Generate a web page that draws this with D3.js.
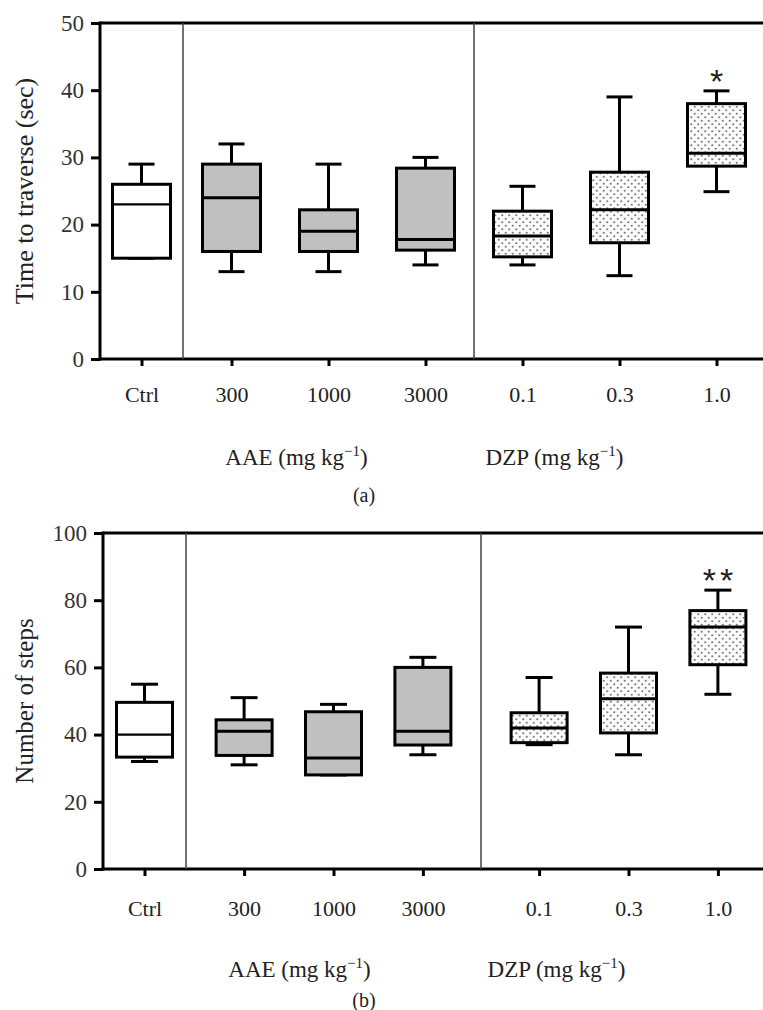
<!DOCTYPE html>
<html>
<head>
<meta charset="utf-8">
<script src="https://cdn.jsdelivr.net/npm/d3@7"></script>
<style>
	body { margin: 0; background: #fff; }
	svg { display: block; }
</style>
</head>
<body>
<svg></svg>
<script>

const categories = ['Ctrl', '300', '1000', '3000', '0.1', '0.3', '1.0']
const groups = ['ctrl', 'aae', 'aae', 'aae', 'dzp', 'dzp', 'dzp']

// panel (a): time to traverse (sec) -> min, q1, median, q3, max
const traverseMin = [15, 13, 13, 14, 14, 12.4, 24.9]
const traverseQ1 = [15, 16, 16, 16.2, 15.2, 17.3, 28.7]
const traverseMed = [23, 24, 19, 17.8, 18.3, 22.2, 30.6]
const traverseQ3 = [26, 29, 22.2, 28.4, 22, 27.8, 38]
const traverseMax = [29, 32, 29, 30, 25.7, 39, 39.9]
const traverseSig = ['', '', '', '', '', '', '*']
const traverseTicks = [0, 10, 20, 30, 40, 50]

// panel (b): number of steps
const stepsMin = [32, 31, 28, 34, 37, 34, 52]
const stepsQ1 = [33.3, 33.8, 28, 36.9, 37.6, 40.5, 60.8]
const stepsMed = [40, 41, 33, 41, 42, 50.7, 72]
const stepsQ3 = [49.6, 44.4, 46.8, 60, 46.5, 58.3, 76.9]
const stepsMax = [55, 51, 49, 63, 57, 72, 83]
const stepsSig = ['', '', '', '', '', '', '**']
const stepsTicks = [0, 20, 40, 60, 80, 100]

let width = 763, height = 1010
const serif = "'Liberation Serif', 'Times New Roman', Times, serif"

let svg = d3.select('svg')
	.attr('width', width)
	.attr('height', height)

let defs = svg.append('defs')
let pat = defs.append('pattern')
	.attr('id', 'dots')
	.attr('patternUnits', 'userSpaceOnUse')
	.attr('width', 7).attr('height', 7)
pat.append('rect').attr('width', 7).attr('height', 7).attr('fill', '#fbfbfb')
pat.append('circle').attr('cx', 1.75).attr('cy', 1.75).attr('r', 1.1).attr('fill', '#7d7d7d')
pat.append('circle').attr('cx', 5.25).attr('cy', 5.25).attr('r', 1.1).attr('fill', '#7d7d7d')

const fills = { ctrl: '#fff', aae: '#c0c0c0', dzp: 'url(#dots)' }

const drawPanel = (p) => {
	let g = svg.append('g')

	let y = d3.scaleLinear()
		.domain([0, d3.max(p.ticks)])
		.range([p.bottom, p.top])

	// x positions: one point scale per group, placed between the dividers
	let scCtrl = d3.scalePoint().domain(categories.slice(0, 1)).range([p.left, p.div1]).padding(0.5)
	let scAae = d3.scalePoint().domain(categories.slice(1, 4)).range([p.div1, p.div2]).padding(p.pad)
	let scDzp = d3.scalePoint().domain(categories.slice(4)).range([p.div2, p.div2 + (p.div2 - p.div1)]).padding(p.pad)
	let x = d3.scaleOrdinal()
		.domain(categories)
		.range(categories.map((c, i) => groups[i] == 'ctrl' ? scCtrl(c) : groups[i] == 'aae' ? scAae(c) : scDzp(c)))

	let data = categories.map((c, i) => ({
		cat: c, group: groups[i],
		min: p.min[i], q1: p.q1[i], med: p.med[i], q3: p.q3[i], max: p.max[i],
		sig: p.sig[i]
	}))

	// y axis
	let axY = d3.axisLeft(y).tickValues(p.ticks).tickSize(9).tickPadding(7)
	g.append('g')
		.attr('transform', `translate(${p.left}, 0)`)
		.call(axY)
		.call(a => a.select('.domain').remove())
		.call(a => a.selectAll('line').attr('stroke', '#000').attr('stroke-width', 3))
		.call(a => a.selectAll('text')
			.style('font-family', serif)
			.style('font-size', '23px').style('fill', '#333'))

	// x axis (ticks + labels)
	let axX = d3.axisBottom(x).tickSize(7).tickPadding(p.xPad)
	g.append('g')
		.attr('transform', `translate(0, ${p.bottom})`)
		.call(axX)
		.call(a => a.select('.domain').remove())
		.call(a => a.selectAll('line').attr('stroke', '#000').attr('stroke-width', 3))
		.call(a => a.selectAll('text')
			.style('font-family', serif)
			.style('font-size', '22px').style('fill', '#222'))

	// frame lines
	g.append('line')
		.attr('x1', p.left).attr('x2', width).attr('y1', p.top).attr('y2', p.top)
		.attr('stroke', '#000').attr('stroke-width', 3)
	g.append('line')
		.attr('x1', p.left).attr('x2', width).attr('y1', p.bottom).attr('y2', p.bottom)
		.attr('stroke', '#000').attr('stroke-width', 3)
	g.append('line')
		.attr('x1', p.left).attr('x2', p.left).attr('y1', p.top - 1.5).attr('y2', p.bottom + 1.5)
		.attr('stroke', '#000').attr('stroke-width', 3)

	// group dividers
	g.selectAll('.divider')
		.data([p.div1, p.div2])
		.enter().append('line')
		.attr('x1', d => d).attr('x2', d => d)
		.attr('y1', p.top).attr('y2', p.bottom)
		.attr('stroke', '#444').attr('stroke-width', 1.5)

	let boxes = g.selectAll('.box')
		.data(data)
		.enter().append('g')
		.attr('class', 'box')

	// whiskers
	boxes.append('line')
		.attr('x1', d => x(d.cat)).attr('x2', d => x(d.cat))
		.attr('y1', d => y(d.max)).attr('y2', d => y(d.min))
		.attr('stroke', '#000').attr('stroke-width', 3)
	boxes.selectAll('.cap')
		.data(d => [d.min, d.max].map(v => ({ cat: d.cat, v: v })))
		.enter().append('line')
		.attr('x1', d => x(d.cat) - p.cap / 2).attr('x2', d => x(d.cat) + p.cap / 2)
		.attr('y1', d => y(d.v)).attr('y2', d => y(d.v))
		.attr('stroke', '#000').attr('stroke-width', 3)

	// box
	boxes.append('rect')
		.attr('x', d => x(d.cat) - p.boxW / 2)
		.attr('width', p.boxW)
		.attr('y', d => y(d.q3))
		.attr('height', d => y(d.q1) - y(d.q3))
		.attr('fill', d => fills[d.group])
		.attr('stroke', '#000').attr('stroke-width', 3)

	// median
	boxes.append('line')
		.attr('x1', d => x(d.cat) - p.boxW / 2).attr('x2', d => x(d.cat) + p.boxW / 2)
		.attr('y1', d => y(d.med)).attr('y2', d => y(d.med))
		.attr('stroke', '#000').attr('stroke-width', d => d.group == 'ctrl' ? 2.2 : 3)

	// significance marks
	boxes.filter(d => d.sig).append('text')
		.attr('x', d => x(d.cat) + 2)
		.attr('y', d => y(d.max) + 2)
		.attr('text-anchor', 'middle')
		.style('font-family', "'Liberation Sans', Arial, sans-serif")
		.style('font-size', '34px')
		.style('letter-spacing', '4px')
		.style('fill', '#222')
		.text(d => d.sig)

	// y title
	g.append('text')
		.attr('transform', `translate(${p.titleX}, ${(p.top + p.bottom) / 2}) rotate(-90)`)
		.attr('text-anchor', 'middle')
		.style('font-family', serif)
		.style('font-size', p.titleSize + 'px')
		.style('fill', '#222')
		.text(p.title)

	// group titles
	const groupTitle = (cx, name) => {
		let t = g.append('text')
			.attr('x', cx).attr('y', p.groupY)
			.attr('text-anchor', 'middle')
			.style('font-family', serif)
			.style('font-size', '23px')
			.style('fill', '#222')
		t.append('tspan').text(`${name} (mg kg`)
		t.append('tspan').attr('dy', -9).style('font-size', '15px').text('\u22121')
		t.append('tspan').attr('dy', 9).text(')')
	}
	groupTitle(d3.mean(categories.slice(1, 4), c => x(c)) + p.aaeShift, 'AAE')
	groupTitle(d3.mean(categories.slice(4), c => x(c)) + p.dzpShift, 'DZP')

	g.append('text')
		.attr('x', p.letterX).attr('y', p.letterY)
		.attr('text-anchor', 'middle')
		.style('font-family', serif)
		.style('font-size', '20px')
		.style('fill', '#222')
		.text(p.letter)
}

drawPanel({
	top: 23, bottom: 359, left: 100, div1: 183, div2: 474, pad: 0.5,
	boxW: 58, cap: 26, xPad: 20,
	ticks: traverseTicks,
	min: traverseMin, q1: traverseQ1, med: traverseMed, q3: traverseQ3, max: traverseMax,
	sig: traverseSig,
	title: 'Time to traverse (sec)', titleX: 33, titleSize: 26,
	groupY: 465, aaeShift: -32, dzpShift: -65,
	letter: '(a)', letterX: 364, letterY: 502
})

drawPanel({
	top: 533, bottom: 869, left: 103, div1: 186, div2: 481, pad: 0.65,
	boxW: 56, cap: 27, xPad: 24,
	ticks: stepsTicks,
	min: stepsMin, q1: stepsQ1, med: stepsMed, q3: stepsQ3, max: stepsMax,
	sig: stepsSig,
	title: 'Number of steps', titleX: 33, titleSize: 25,
	groupY: 977, aaeShift: -34, dzpShift: -72,
	letter: '(b)', letterX: 364, letterY: 1007
})

</script>
</body>
</html>
